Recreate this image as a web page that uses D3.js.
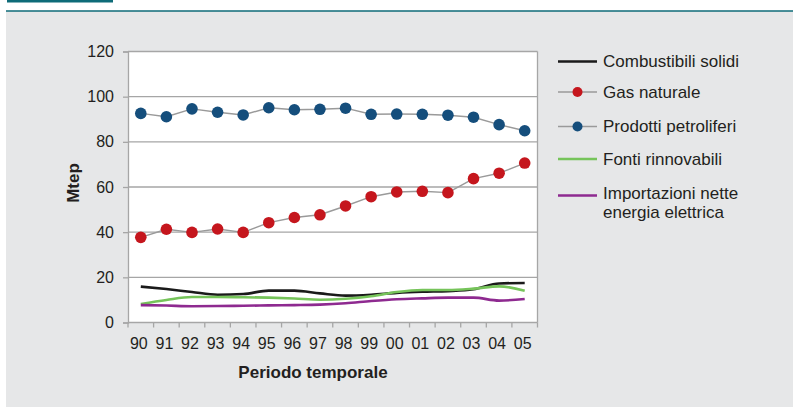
<!DOCTYPE html>
<html>
<head>
<meta charset="utf-8">
<script src="https://cdn.jsdelivr.net/npm/d3@7"></script>
<style>
  html, body { margin: 0; padding: 0; background: #ffffff; }
  svg { display: block; font-family: "Liberation Sans", Arial, sans-serif; }
</style>
</head>
<body>
<svg id="chart" width="793" height="407"></svg>
<script>
// Consumo interno lordo per fonte (Mtep), 1990-2005
const years = ["90","91","92","93","94","95","96","97","98","99","00","01","02","03","04","05"];
const combustibiliSolidi = [15.9,14.8,13.5,12.3,12.6,14.1,14.1,12.9,11.9,12.3,13.1,13.6,13.9,14.7,17.3,17.5];
const gasNaturale        = [37.7,41.3,39.9,41.4,39.9,44.2,46.5,47.7,51.6,55.7,57.8,58.1,57.5,63.7,66.1,70.6];
const prodottiPetroliferi= [92.6,91.1,94.6,93.1,91.9,95.1,94.2,94.4,94.9,92.2,92.3,92.2,91.8,90.9,87.6,84.9];
const fontiRinnovabili   = [8.2,10.0,11.3,11.3,11.2,11.0,10.6,10.1,10.5,11.6,13.5,14.4,14.4,15.0,16.0,14.1];
const importazioniNette  = [7.7,7.5,7.2,7.3,7.4,7.6,7.7,7.9,8.5,9.5,10.3,10.7,11.0,11.0,9.7,10.4];
const yTicks = [0,20,40,60,80,100,120];

const series = [
  { name: ["Combustibili solidi"], values: combustibiliSolidi, color: "#1a1a1a", width: 2.6, marker: null, smooth: true },
  { name: ["Gas naturale"], values: gasNaturale, color: "#9a9a9a", width: 1.4, marker: "#c5161d", smooth: false },
  { name: ["Prodotti petroliferi"], values: prodottiPetroliferi, color: "#9a9a9a", width: 1.4, marker: "#154e7c", smooth: false },
  { name: ["Fonti rinnovabili"], values: fontiRinnovabili, color: "#76c45a", width: 2.6, marker: null, smooth: true },
  { name: ["Importazioni nette", "energia elettrica"], values: importazioniNette, color: "#8e2a90", width: 2.6, marker: null, smooth: true }
];

const svg = d3.select("#chart");

// header band and panel
svg.append("rect").attr("x", 6).attr("y", 11).attr("width", 787).attr("height", 396).attr("fill", "#e6e7e8");
svg.append("rect").attr("x", 7).attr("y", 0).attr("width", 106).attr("height", 2.5).attr("fill", "#0e6b78");
svg.append("line").attr("x1", 6).attr("x2", 793).attr("y1", 11).attr("y2", 11)
  .attr("stroke", "#0e6b78").attr("stroke-width", 1.5);

const plot = { left: 128, right: 537.5, top: 51.5, bottom: 322.5 };

const x = d3.scaleBand().domain(years).range([plot.left, plot.right]).padding(0);
const y = d3.scaleLinear().domain([0, 120]).range([plot.bottom, plot.top]);
const cx = d => x(d) + x.bandwidth() / 2;

// plot background
svg.append("rect")
  .attr("x", plot.left).attr("y", plot.top)
  .attr("width", plot.right - plot.left).attr("height", plot.bottom - plot.top)
  .attr("fill", "#ffffff");

// horizontal gridlines
svg.append("g").selectAll("line").data(yTicks.filter(t => t > 0)).join("line")
  .attr("x1", plot.left).attr("x2", plot.right)
  .attr("y1", d => y(d)).attr("y2", d => y(d))
  .attr("stroke", "#a6a6a6").attr("stroke-width", 1.3);

// right border of the plot area
svg.append("line")
  .attr("x1", plot.right).attr("x2", plot.right).attr("y1", plot.top).attr("y2", plot.bottom)
  .attr("stroke", "#a6a6a6").attr("stroke-width", 1.3);

// y axis
const yAxis = svg.append("g")
  .attr("transform", `translate(${plot.left},0)`)
  .call(d3.axisLeft(y).tickValues(yTicks).tickSize(5).tickPadding(9));
yAxis.select(".domain").attr("stroke", "#a6a6a6").attr("stroke-width", 1.3);
yAxis.selectAll(".tick line").attr("stroke", "#a6a6a6").attr("stroke-width", 1.3);
yAxis.selectAll(".tick text").attr("font-size", 16).attr("fill", "#231f20")
  .attr("font-family", "Liberation Sans, Arial, sans-serif");

// x axis: ticks on band boundaries, labels centred in bands
const xAxis = svg.append("g").attr("transform", `translate(0,${plot.bottom})`);
const boundaries = years.map(d => x(d)).concat([plot.right]);
xAxis.append("line")
  .attr("x1", plot.left).attr("x2", plot.right).attr("y1", 0).attr("y2", 0)
  .attr("stroke", "#a6a6a6").attr("stroke-width", 1.3);
xAxis.selectAll("line.tick").data(boundaries).join("line").attr("class", "tick")
  .attr("x1", d => d).attr("x2", d => d).attr("y1", 0).attr("y2", 5)
  .attr("stroke", "#a6a6a6").attr("stroke-width", 1.3);
xAxis.selectAll("text").data(years).join("text")
  .attr("x", d => cx(d) - 2).attr("y", 26)
  .attr("text-anchor", "middle").attr("font-size", 16).attr("fill", "#231f20")
  .text(d => d);

// axis titles
svg.append("text").attr("x", 313).attr("y", 378).attr("text-anchor", "middle")
  .attr("font-size", 17).attr("font-weight", "bold").attr("fill", "#231f20")
  .text("Periodo temporale");
svg.append("text").attr("transform", "translate(79,183) rotate(-90)")
  .attr("text-anchor", "middle").attr("font-size", 17).attr("font-weight", "bold").attr("fill", "#231f20")
  .text("Mtep");

// series
const lineSmooth = d3.line().x((d, i) => cx(years[i])).y(d => y(d)).curve(d3.curveMonotoneX);
const lineStraight = d3.line().x((d, i) => cx(years[i])).y(d => y(d));

series.forEach(s => {
  svg.append("path").datum(s.values)
    .attr("d", s.smooth ? lineSmooth : lineStraight)
    .attr("fill", "none").attr("stroke", s.color).attr("stroke-width", s.width)
    .attr("stroke-linejoin", "round");
  if (s.marker) {
    svg.append("g").selectAll("circle").data(s.values).join("circle")
      .attr("cx", (d, i) => cx(years[i])).attr("cy", d => y(d)).attr("r", 5.8)
      .attr("fill", s.marker);
  }
});

// legend
const legendRows = [61.5, 92, 126.5, 159, 195.5];
const legend = svg.append("g");
series.forEach((s, i) => {
  const g = legend.append("g").attr("transform", `translate(558,${legendRows[i]})`);
  g.append("line").attr("x1", 0).attr("x2", 39).attr("y1", 0).attr("y2", 0)
    .attr("stroke", s.color).attr("stroke-width", s.width);
  if (s.marker) g.append("circle").attr("cx", 19.5).attr("cy", 0).attr("r", 5).attr("fill", s.marker);
  const t = g.append("text").attr("x", 45).attr("y", s.name.length > 1 ? -2.5 : 0).attr("dy", "0.35em")
    .attr("font-size", 17).attr("fill", "#231f20");
  s.name.forEach((n, j) => t.append("tspan").attr("x", 45).attr("dy", j === 0 ? "0.35em" : "1.12em").text(n));
});
</script>
</body>
</html>
